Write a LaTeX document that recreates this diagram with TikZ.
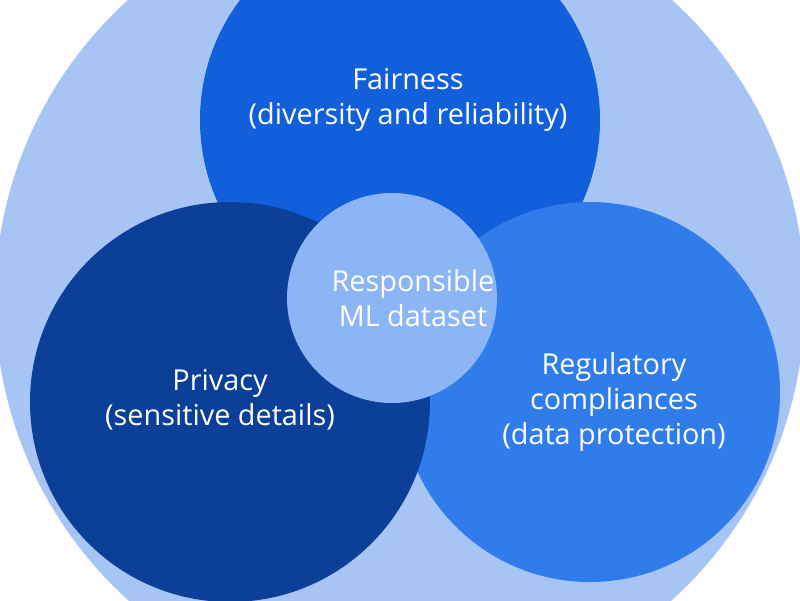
\documentclass[tikz,border=0pt]{standalone}
\usepackage{fontspec}
\setmainfont{Open Sans}
\definecolor{outerblue}{HTML}{A6C4F4}
\definecolor{topblue}{HTML}{115FDA}
\definecolor{leftblue}{HTML}{0B3F98}
\definecolor{rightblue}{HTML}{317CEB}
\definecolor{coreblue}{HTML}{8CB5F5}
\begin{document}
\begin{tikzpicture}[
    x=0.025cm, y=-0.025cm,
    % Styles
    disc/.style={circle, inner sep=0pt, text=white, align=center, font=\fontsize{20.5}{25}\selectfont},
]
    \useasboundingbox (0,0) rectangle (800,600);
    \clip (0,0) rectangle (800,600);

    % --- Circles ---
    \node[disc, fill=outerblue, minimum size=810*0.025cm] (outer) at (400,300) {};
    \node[disc, fill=topblue, minimum size=400*0.025cm] (fair) at (400,120) {};
    \node[disc, fill=rightblue, minimum size=380*0.025cm] (reg) at (590,392) {};
    \node[disc, fill=leftblue, minimum size=400*0.025cm] (priv) at (230,402) {};
    \node[disc, fill=coreblue, minimum size=210*0.025cm] (core) at (392,298) {};

    % --- Labels ---
    \node[disc] (fairtext) at (408,100) {Fairness\\(diversity and reliability)};
    \node[disc] (privtext) at (220,400) {Privacy\\(sensitive details)};
    \node[disc] (regtext) at (614,402) {Regulatory\\compliances\\(data protection)};
    \node[disc] (coretext) at (413,298) {Responsible\\ML dataset};
\end{tikzpicture}
\end{document}
